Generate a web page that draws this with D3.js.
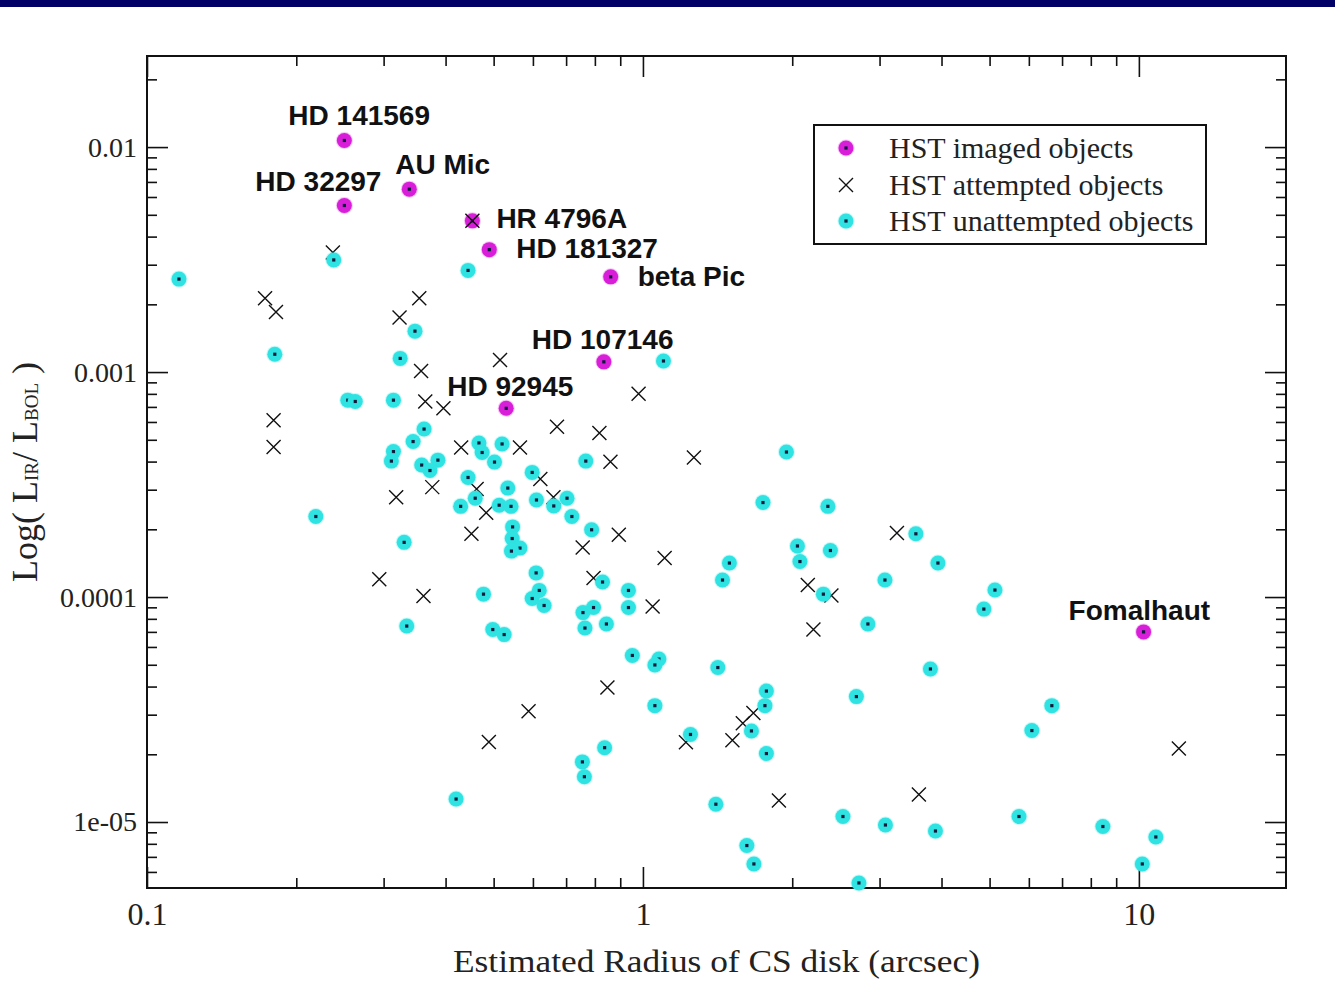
<!DOCTYPE html>
<html>
<head>
<meta charset="utf-8">
<script src="https://cdn.jsdelivr.net/npm/d3@7"></script>
<style>
  html, body { margin: 0; padding: 0; background: #fff; }
  svg { display: block; }
</style>
</head>
<body>
<svg id="chart" width="1335" height="982"></svg>
<script>
// ---------------- DATA ----------------
const imagedNames = ["HD 141569","HD 32297","AU Mic","HR 4796A","HD 181327","beta Pic","HD 107146","HD 92945","Fomalhaut"];
const imagedRadius = [0.25, 0.25, 0.338, 0.453, 0.49, 0.861, 0.834, 0.53, 10.22];
const imagedLum = [0.0107, 0.0055, 0.0065, 0.0047, 0.0035, 0.00265, 0.00111, 0.00069, 0.00007];

const attemptedRadius = [0.453,0.237,0.173,0.182,0.354,0.323,0.357,0.364,0.396,0.515,0.98,0.18,0.18,0.671,0.817,0.43,0.565,0.86,1.267,0.621,0.376,0.318,0.462,0.483,0.66,0.451,0.894,0.756,1.106,0.294,0.361,0.795,1.046,3.252,2.15,2.399,2.207,0.848,0.588,0.489,1.221,1.515,1.59,1.67,1.88,3.601,12.04];
const attemptedLum = [0.0047,0.0034,0.00213,0.00185,0.00213,0.00175,0.00101,0.00074,0.00069,0.00113,0.0008,0.00061,0.000464,0.000571,0.000536,0.000462,0.000462,0.000399,0.000417,0.000335,0.000308,0.000278,0.000302,0.000237,0.000278,0.000191,0.000189,0.000166,0.000149,0.00012,0.000101,0.0001215,0.0000907,0.0001925,0.0001131,0.0001015,0.0000717,0.0000396,0.0000311,0.0000227,0.0000226,0.0000231,0.0000275,0.0000305,0.00001246,0.00001325,0.0000212];

const unattemptedRadius = [0.116,0.238,0.444,0.347,0.181,0.324,1.10,0.254,0.263,0.314,0.362,0.344,0.314,0.311,0.358,0.386,0.372,0.467,0.474,0.52,0.502,0.598,0.444,0.534,0.459,0.429,0.513,0.542,0.61,0.661,0.703,0.719,0.767,0.788,0.546,0.545,0.565,0.543,0.219,0.33,0.609,0.618,0.598,0.632,0.477,0.334,0.498,0.525,0.757,0.795,0.764,0.844,0.829,0.935,0.935,0.952,1.077,1.057,1.416,1.774,1.762,1.057,2.694,1.247,1.655,1.774,0.837,0.755,0.762,1.403,2.531,3.083,3.889,5.731,8.461,10.82,10.16,1.62,1.674,2.726,0.42,1.947,1.746,2.36,3.551,2.049,2.388,2.073,1.494,1.447,3.076,3.934,5.126,4.869,2.311,2.842,3.799,6.676,6.085];
const unattemptedLum = [0.00259,0.00315,0.00283,0.00152,0.0012,0.00115,0.00112,0.00075,0.00074,0.00075,0.000558,0.000491,0.000443,0.000402,0.000386,0.000406,0.000365,0.000484,0.000439,0.000479,0.000398,0.000358,0.00034,0.000305,0.000275,0.000253,0.000256,0.000253,0.00027,0.000254,0.000275,0.000228,0.000402,0.000199,0.000205,0.000182,0.000165,0.00016,0.000228,0.000175,0.000128,0.000107,0.0000985,0.0000917,0.000103,0.0000743,0.0000717,0.0000681,0.0000853,0.0000898,0.0000728,0.0000759,0.0001166,0.000107,0.0000898,0.000055,0.000053,0.0000499,0.0000486,0.0000382,0.0000329,0.0000329,0.0000361,0.0000245,0.0000254,0.00002015,0.0000214,0.0000185,0.0000159,0.000012,0.00001058,0.0000097,0.00000912,0.00001058,0.00000955,0.00000858,0.00000651,0.00000786,0.00000651,0.00000536,0.00001265,0.000441,0.000263,0.000253,0.000191,0.0001686,0.000161,0.0001438,0.0001416,0.000119,0.000119,0.0001416,0.0001074,0.0000884,0.000103,0.0000759,0.0000479,0.0000329,0.0000255];

const xMajorTicks = [0.1, 1, 10];
const xTickLabels = ["0.1", "1", "10"];
const yMajorTicks = [0.01, 0.001, 0.0001, 0.00001];
const yTickLabels = ["0.01", "0.001", "0.0001", "1e-05"];
const legendLabels = ["HST imaged objects", "HST attempted objects", "HST unattempted objects"];
const xTitle = "Estimated Radius of CS disk (arcsec)";

// label placement (layout only): offset of text start / baseline from point
const labelOffsets = [[-56,-15],[-89,-14],[-14,-15],[24,7],[27,8],[27,9],[-72,-13],[-59,-12],[-75,-12]];

// ---------------- LAYOUT ----------------
const W = 1335, H = 982;
const plot = {left: 147, right: 1286, top: 56, bottom: 888};
const CYAN = "#30e3e3", MAGENTA = "#d91ed9", DOT = "#0a1a3a";
const serif = "'Liberation Serif','Times New Roman',Times,serif";
const sans = "'Liberation Sans',Arial,Helvetica,sans-serif";

const svg = d3.select("#chart");
svg.append("rect").attr("x",0).attr("y",0).attr("width",W).attr("height",H).attr("fill","#fff");
svg.append("rect").attr("x",0).attr("y",0).attr("width",W).attr("height",7).attr("fill","#000066");

const x = d3.scaleLog().domain([0.1, 19.8]).range([plot.left, plot.right]);
const y = d3.scaleLog().domain([5.09e-6, 0.0254]).range([plot.bottom, plot.top]);

function minorTicks(scale){
  const [a,b] = scale.domain();
  const out = [];
  for (let e = Math.floor(Math.log10(a)); e <= Math.ceil(Math.log10(b)); e++) {
    for (let m = 2; m <= 9; m++) {
      const v = m * Math.pow(10, e);
      if (v > a && v < b) out.push(v);
    }
  }
  return out;
}
const xMinor = minorTicks(x), yMinor = minorTicks(y);
const MAJ = 21, MIN = 10;

function styleAxis(g){
  g.select(".domain").remove();
  g.selectAll(".tick line").attr("stroke","#111").attr("stroke-width",1.6);
}

// bottom
svg.append("g").attr("transform",`translate(0,${plot.bottom})`)
  .call(d3.axisBottom(x).tickValues(xMajorTicks).tickSize(-MAJ).tickSizeOuter(0).tickPadding(14)
    .tickFormat((d,i)=>xTickLabels[i]))
  .call(styleAxis)
  .call(g=>g.selectAll("text").attr("font-family",serif).attr("font-size",32).attr("fill","#222"));
svg.append("g").attr("transform",`translate(0,${plot.bottom})`)
  .call(d3.axisBottom(x).tickValues(xMinor).tickSize(-MIN).tickSizeOuter(0).tickFormat(""))
  .call(styleAxis);
// top
svg.append("g").attr("transform",`translate(0,${plot.top})`)
  .call(d3.axisTop(x).tickValues(xMajorTicks).tickSize(-MAJ).tickSizeOuter(0).tickFormat(""))
  .call(styleAxis);
svg.append("g").attr("transform",`translate(0,${plot.top})`)
  .call(d3.axisTop(x).tickValues(xMinor).tickSize(-MIN).tickSizeOuter(0).tickFormat(""))
  .call(styleAxis);
// left
svg.append("g").attr("transform",`translate(${plot.left},0)`)
  .call(d3.axisLeft(y).tickValues(yMajorTicks).tickSize(-MAJ).tickSizeOuter(0).tickPadding(10)
    .tickFormat((d,i)=>yTickLabels[i]))
  .call(styleAxis)
  .call(g=>g.selectAll("text").attr("font-family",serif).attr("font-size",28).attr("fill","#222"));
svg.append("g").attr("transform",`translate(${plot.left},0)`)
  .call(d3.axisLeft(y).tickValues(yMinor).tickSize(-MIN).tickSizeOuter(0).tickFormat(""))
  .call(styleAxis);
// right
svg.append("g").attr("transform",`translate(${plot.right},0)`)
  .call(d3.axisRight(y).tickValues(yMajorTicks).tickSize(-MAJ).tickSizeOuter(0).tickFormat(""))
  .call(styleAxis);
svg.append("g").attr("transform",`translate(${plot.right},0)`)
  .call(d3.axisRight(y).tickValues(yMinor).tickSize(-MIN).tickSizeOuter(0).tickFormat(""))
  .call(styleAxis);

// frame
svg.append("rect").attr("x",plot.left).attr("y",plot.top)
  .attr("width",plot.right-plot.left).attr("height",plot.bottom-plot.top)
  .attr("fill","none").attr("stroke","#111").attr("stroke-width",2);

// markers
function dotMarker(g, cx, cy, color){
  g.append("circle").attr("cx",cx).attr("cy",cy).attr("r",8.5).attr("fill",color).attr("opacity",0.25);
  g.append("circle").attr("cx",cx).attr("cy",cy).attr("r",7.5).attr("fill",color);
  g.append("rect").attr("x",cx-1.6).attr("y",cy-1.6).attr("width",3.2).attr("height",3.2).attr("fill",DOT);
}
function crossMarker(g, cx, cy){
  const s = 7;
  g.append("path").attr("d",`M${cx-s},${cy-s}L${cx+s},${cy+s}M${cx-s},${cy+s}L${cx+s},${cy-s}`)
    .attr("stroke","#111").attr("stroke-width",1.4).attr("fill","none");
}

const imaged = imagedNames.map((n,i)=>({name:n, r:imagedRadius[i], l:imagedLum[i], off:labelOffsets[i]}));
const attempted = attemptedRadius.map((r,i)=>({r, l:attemptedLum[i]}));
const unattempted = unattemptedRadius.map((r,i)=>({r, l:unattemptedLum[i]}));

const gPts = svg.append("g");
const gImg = gPts.append("g");
imaged.forEach(d=>dotMarker(gImg, x(d.r), y(d.l), MAGENTA));
const gAtt = gPts.append("g");
attempted.forEach(d=>crossMarker(gAtt, x(d.r), y(d.l)));
const gUn = gPts.append("g");
unattempted.forEach(d=>dotMarker(gUn, x(d.r), y(d.l), CYAN));

// object labels
svg.append("g").selectAll("text").data(imaged).join("text")
  .attr("x",d=>x(d.r)+d.off[0]).attr("y",d=>y(d.l)+d.off[1])
  .attr("font-family",sans).attr("font-weight","bold").attr("font-size",28).attr("fill","#111")
  .text(d=>d.name);

// legend
const lg = svg.append("g");
lg.append("rect").attr("x",814).attr("y",125).attr("width",392).attr("height",119)
  .attr("fill","#fff").attr("stroke","#111").attr("stroke-width",2);
const rowY = [148, 185, 221];
dotMarker(lg, 846, rowY[0], MAGENTA);
crossMarker(lg, 846, rowY[1]);
dotMarker(lg, 846, rowY[2], CYAN);
legendLabels.forEach((t,i)=>{
  lg.append("text").attr("x",889).attr("y",rowY[i]+10)
    .attr("font-family",serif).attr("font-size",30).attr("fill","#222").text(t);
});

// axis titles
svg.append("text").attr("x",(plot.left+plot.right)/2).attr("y",972)
  .attr("text-anchor","middle").attr("font-family",serif).attr("font-size",32).attr("fill","#222")
  .attr("textLength",527).attr("lengthAdjust","spacingAndGlyphs")
  .text(xTitle);

const yt = svg.append("text").attr("transform",`translate(37,${(plot.top+plot.bottom)/2}) rotate(-90)`)
  .attr("text-anchor","middle").attr("font-family",serif).attr("font-size",36).attr("fill","#222");
yt.append("tspan").text("Log( L");
yt.append("tspan").attr("font-size",19).attr("dy",1).text("IR");
yt.append("tspan").attr("dy",-1).text("/ L");
yt.append("tspan").attr("font-size",19).attr("dy",1).text("BOL");
yt.append("tspan").attr("dy",-1).text(" )");
</script>
</body>
</html>
